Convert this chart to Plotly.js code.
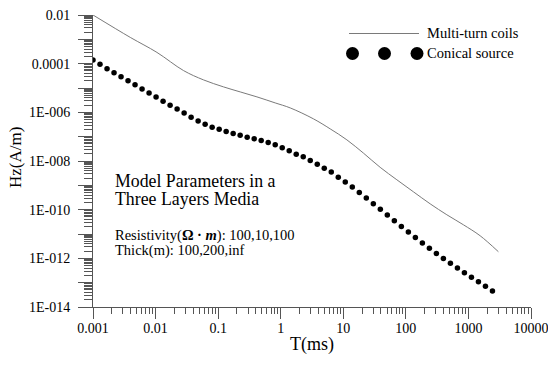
<!DOCTYPE html>
<html>
<head>
<meta charset="utf-8">
<script src="https://cdn.plot.ly/plotly-3.0.1.min.js"></script>
<style>html,body{margin:0;padding:0;background:#fff;}#chart{width:548px;height:365px;}</style>
</head>
<body>
<div id="chart"></div>
<script>
// Conical source (dots)
const T_dots = [0.001, 0.001294, 0.001675, 0.002168, 0.002805, 0.003631, 0.004699, 0.006081, 0.00787,
  0.01019, 0.01318, 0.01706, 0.02208, 0.02858, 0.03698, 0.04786, 0.06194, 0.08017,
  0.1038, 0.1343, 0.1738, 0.2249, 0.2911, 0.3767, 0.4875, 0.631, 0.8166,
  1.057, 1.368, 1.77, 2.291, 2.965, 3.837, 4.966, 6.427, 8.318,
  10.76, 13.93, 18.03, 23.33, 30.2, 39.08, 50.58, 65.46, 84.72,
  109.6, 141.9, 183.7, 237.7, 307.6, 398.1, 515.2, 666.8, 863.0,
  1117, 1445, 1871, 2421];
const Hz_dots = [1.42e-4, 9.46e-5, 6.25e-5, 4.20e-5, 2.88e-5, 1.97e-5, 1.35e-5, 9.08e-6, 6.22e-6,
  4.27e-6, 2.86e-6, 1.96e-6, 1.36e-6, 9.48e-7, 6.31e-7, 4.45e-7, 3.26e-7, 2.45e-7,
  2.00e-7, 1.62e-7, 1.35e-7, 1.14e-7, 9.53e-8, 8.12e-8, 6.92e-8, 5.73e-8, 4.70e-8,
  3.47e-8, 2.61e-8, 1.91e-8, 1.48e-8, 1.04e-8, 7.43e-9, 5.09e-9, 3.49e-9, 2.17e-9,
  1.36e-9, 8.45e-10, 5.07e-10, 2.99e-10, 1.74e-10, 1.04e-10, 6.00e-11, 3.50e-11, 2.02e-11,
  1.20e-11, 7.14e-12, 4.29e-12, 2.60e-12, 1.59e-12, 9.91e-13, 6.30e-13, 4.00e-13, 2.56e-13,
  1.67e-13, 1.08e-13, 7.10e-14, 4.55e-14];

// Multi-turn coils (line)
const T_coil = [0.001, 0.003945, 0.01052, 0.02799, 0.05848, 0.122, 0.2254, 0.4169, 0.8166, 1.419,
  3.342, 6.18, 11.42, 21.04, 38.84, 71.78, 132.1, 244.3, 451.6, 831.8, 1538, 3013];
const Hz_coil = [1.0e-2, 1.2e-3, 2.9e-4, 5.2e-5, 2.15e-5, 1.11e-5, 6.90e-6, 4.31e-6, 2.44e-6, 1.52e-6,
  5.38e-7, 2.09e-7, 7.39e-8, 2.10e-8, 5.50e-9, 1.69e-9, 5.42e-10, 1.74e-10, 6.17e-11, 2.39e-11, 8.47e-12, 1.87e-12];

const xTickVals = [0.001, 0.01, 0.1, 1, 10, 100, 1000, 10000];
const xTickText = ['0.001', '0.01', '0.1', '1', '10', '100', '1000', '10000'];
const yTickVals = [1e-14, 1e-13, 1e-12, 1e-11, 1e-10, 1e-9, 1e-8, 1e-7, 1e-6, 1e-5, 1e-4, 1e-3, 1e-2];
const yTickText = ['1E-014', '', '1E-012', '', '1E-010', '', '1E-008', '', '1E-006', '', '0.0001', '', '0.01'];

const seriesNames = ['Multi-turn coils', 'Conical source'];
const yTitle = 'Hz(A/m)';
const xTitle = 'T(ms)';

function minorVals(e0, e1) {
  const out = [];
  for (let e = e0; e < e1; e++) for (let m = 2; m <= 9; m++) out.push(m * Math.pow(10, e));
  return out;
}

const FONT = 'Liberation Serif';
const AXC = '#555';

// plot-area geometry helpers (pixels -> paper)
const L = 93, R = 17, T = 15, B = 58, W = 548 - L - R, H = 365 - T - B;
const px = x => (x - L) / W;
const py = y => (365 - B - y) / H;

const traces = [
  {x: T_coil, y: Hz_coil, mode: 'lines', name: seriesNames[0], line: {color: '#7a7a7a', width: 1, shape: 'spline', smoothing: 1}, showlegend: false},
  {x: T_dots, y: Hz_dots, mode: 'markers', name: seriesNames[1], marker: {color: '#000', size: 5.5}, showlegend: false}
];

const shapes = [
  {type: 'line', xref: 'paper', yref: 'paper', x0: px(349), x1: px(419), y0: py(33.5), y1: py(33.5), line: {color: '#7a7a7a', width: 1}}
];
[352.5, 384.5, 417].forEach(cx => {
  shapes.push({type: 'circle', xref: 'paper', yref: 'paper', x0: px(cx - 6.5), x1: px(cx + 6.5), y0: py(53.5 + 6.5), y1: py(53.5 - 6.5), fillcolor: '#000', line: {width: 0}});
});

const ann = (x, y, text, size) => ({xref: 'paper', yref: 'paper', x: px(x), y: py(y), xanchor: 'left', yanchor: 'middle', text: text, showarrow: false, borderpad: 0, font: {family: FONT, size: size, color: '#000'}});

const annotations = [
  ann(426, 33.5, seriesNames[0], 14.5),
  ann(426, 53, seriesNames[1], 14.5),
  ann(114, 181, 'Model Parameters in a', 17.8),
  ann(114, 198.5, 'Three Layers Media', 17.8),
  ann(114, 235.5, 'Resistivity(<b>Ω · <i>m</i></b>): 100,10,100', 14.5),
  ann(114, 250.5, 'Thick(m): 100,200,inf', 14.5),
  {xref: 'paper', yref: 'paper', x: px(15), y: py(158), xanchor: 'center', yanchor: 'middle', textangle: -90,
   text: yTitle, showarrow: false, borderpad: 0, font: {family: FONT, size: 17, color: '#000'}}
];

const layout = {
  width: 548, height: 365,
  margin: {l: L, r: R, t: T, b: B},
  paper_bgcolor: '#fff', plot_bgcolor: '#fff',
  font: {family: FONT, size: 14, color: '#000'},
  xaxis: {
    type: 'log', range: [-3, 4], showgrid: false, zeroline: false,
    showline: true, linecolor: AXC, linewidth: 1,
    tickmode: 'array', tickvals: xTickVals, ticktext: xTickText,
    ticks: 'outside', ticklen: 11, tickcolor: AXC, tickwidth: 1,
    ticklabelstandoff: -3, ticklabeloverflow: 'allow',
    tickfont: {family: FONT, size: 14, color: '#000'},
    minor: {tickmode: 'array', tickvals: minorVals(-3, 4), ticks: 'outside', ticklen: 6, tickcolor: AXC, tickwidth: 1, showgrid: false},
    title: {text: xTitle, font: {family: FONT, size: 18, color: '#000'}, standoff: 2}
  },
  yaxis: {
    type: 'log', range: [-14, -2], showgrid: false, zeroline: false,
    showline: true, linecolor: AXC, linewidth: 1,
    tickmode: 'array', tickvals: yTickVals, ticktext: yTickText,
    ticks: 'outside', ticklen: 14, tickcolor: AXC, tickwidth: 1,
    ticklabelstandoff: 5, ticklabeloverflow: 'allow',
    tickfont: {family: FONT, size: 14, color: '#000'},
    minor: {tickmode: 'array', tickvals: minorVals(-14, -2), ticks: 'outside', ticklen: 8, tickcolor: AXC, tickwidth: 1, showgrid: false}
  },
  shapes: shapes,
  annotations: annotations,
  showlegend: false
};

Plotly.newPlot('chart', traces, layout, {staticPlot: true, displayModeBar: false});
</script>
</body>
</html>
